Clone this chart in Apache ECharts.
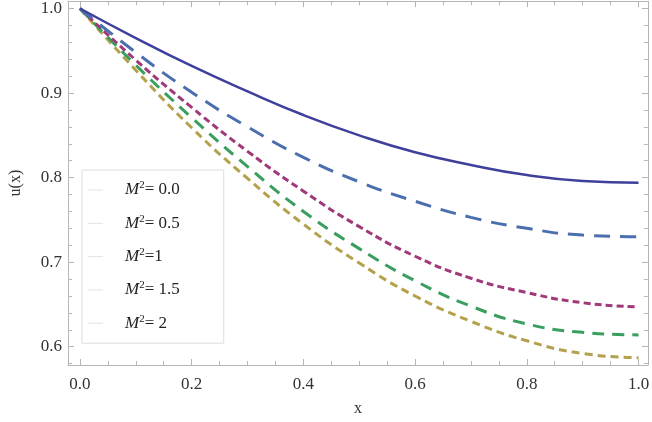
<!DOCTYPE html>
<html>
<head>
<meta charset="utf-8">
<script src="https://cdn.jsdelivr.net/npm/echarts@6/dist/echarts.min.js"></script>
<style>
  html, body { margin: 0; padding: 0; background: #fff; }
  #app { width: 652px; height: 422px; }
</style>
</head>
<body>
<div id="app"></div>
<script>
// x positions and u(x)
var xs = [0, 0.1, 0.2, 0.3, 0.4, 0.5, 0.6, 0.7, 0.8, 0.9, 1.0];
var uM00 = [1.000, 0.965, 0.932, 0.902, 0.874, 0.850, 0.830, 0.815, 0.803, 0.796, 0.794];
var uM05 = [1.000, 0.948, 0.901, 0.860, 0.824, 0.795, 0.772, 0.753, 0.740, 0.732, 0.730];
var uM10 = [1.000, 0.939, 0.883, 0.831, 0.784, 0.742, 0.707, 0.681, 0.664, 0.652, 0.647];
var uM15 = [1.000, 0.933, 0.871, 0.813, 0.760, 0.716, 0.678, 0.648, 0.627, 0.617, 0.614];
var uM20 = [1.000, 0.927, 0.859, 0.799, 0.745, 0.699, 0.660, 0.630, 0.607, 0.592, 0.587];

var legendNames = ['M2=0.0', 'M2=0.5', 'M2=1', 'M2=1.5', 'M2=2'];
var legendTails = ['= 0.0', '= 0.5', '=1', '= 1.5', '= 2'];

var xLabels = [0, 0.2, 0.4, 0.6, 0.8, 1.0];
var xTicks = [0, 0.05, 0.1, 0.15, 0.2, 0.25, 0.3, 0.35, 0.4, 0.45, 0.5, 0.55, 0.6, 0.65, 0.7, 0.75, 0.8, 0.85, 0.9, 0.95, 1.0];
var yLabels = [0.6, 0.7, 0.8, 0.9, 1.0];
var yTicks = [0.58, 0.6, 0.62, 0.64, 0.66, 0.68, 0.7, 0.72, 0.74, 0.76, 0.78, 0.8, 0.82, 0.84, 0.86, 0.88, 0.9, 0.92, 0.94, 0.96, 0.98, 1.0];

var seriesVals = [uM00, uM05, uM10, uM15, uM20];
var colors = ['#3f3f9c', '#4b6eaf', '#a0397a', '#3a9f5e', '#b3a14b'];
var dashes = ['solid', [16, 10], [7, 4], [12, 8], [8, 5]];
var widths = [2.5, 3, 3, 3, 3];

var frameColor = '#b5b5b5';
var serif = 'Liberation Serif';
var xMin = -0.0214, xMax = 1.0167;
var yMin = 0.5784, yMax = 1.0086;

var myChart = echarts.init(document.getElementById('app'));

function pairs(v) {
    return xs.map(function (x, i) { return [x, v[i]]; });
}

var series = seriesVals.map(function (v, i) {
    return {
        name: legendNames[i],
        type: 'line',
        smooth: true,
        symbol: 'none',
        data: pairs(v),
        lineStyle: { color: colors[i], width: widths[i], type: dashes[i], cap: 'butt' },
        itemStyle: { color: colors[i] },
        z: 10 - i
    };
});

// bare axes for the frame: top / right sides and the longer major ticks
function frameX(pos, ticks, len, showLine) {
    return {
        type: 'value', position: pos, min: xMin, max: xMax,
        axisLine: { show: showLine, onZero: false, lineStyle: { color: frameColor, width: 1 } },
        axisTick: { show: true, inside: true, length: len, customValues: ticks, lineStyle: { color: frameColor } },
        axisLabel: { show: false },
        splitLine: { show: false }
    };
}
function frameY(pos, ticks, len, showLine) {
    return {
        type: 'value', position: pos, min: yMin, max: yMax,
        axisLine: { show: showLine, onZero: false, lineStyle: { color: frameColor, width: 1 } },
        axisTick: { show: true, inside: true, length: len, customValues: ticks, lineStyle: { color: frameColor } },
        axisLabel: { show: false },
        splitLine: { show: false }
    };
}

var xMain = {
    type: 'value', position: 'bottom', min: xMin, max: xMax,
    name: 'x', nameLocation: 'middle', nameGap: 36,
    nameTextStyle: { fontFamily: serif, fontSize: 16, color: '#333' },
    axisLine: { show: true, onZero: false, lineStyle: { color: frameColor, width: 1 } },
    axisTick: { show: true, inside: true, length: 4, customValues: xTicks, lineStyle: { color: frameColor } },
    axisLabel: {
        customValues: xLabels, margin: 11,
        fontFamily: serif, fontSize: 17, color: '#333',
        formatter: function (v) { return v.toFixed(1); }
    },
    splitLine: { show: false }
};
var yMain = {
    type: 'value', position: 'left', min: yMin, max: yMax,
    name: 'u(x)', nameLocation: 'middle', nameGap: 44,
    nameTextStyle: { fontFamily: serif, fontSize: 16, color: '#333' },
    axisLine: { show: true, onZero: false, lineStyle: { color: frameColor, width: 1 } },
    axisTick: { show: true, inside: true, length: 4, customValues: yTicks, lineStyle: { color: frameColor } },
    axisLabel: {
        customValues: yLabels, margin: 6,
        fontFamily: serif, fontSize: 17, color: '#333',
        formatter: function (v) { return v.toFixed(1); }
    },
    splitLine: { show: false }
};

var option = {
    backgroundColor: '#fff',
    animation: false,
    grid: { left: 58.5, right: 2.5, top: 1, bottom: 56 },
    legend: {
        orient: 'vertical',
        left: 82, top: 170,
        padding: [10, 44, 10, 6],
        icon: 'rect',
        itemWidth: 15, itemHeight: 1, itemGap: 13.3,
        borderColor: '#dddddd', borderWidth: 1,
        backgroundColor: '#fff',
        itemStyle: { color: '#e2e2e2' },
        data: legendNames,
        formatter: function (name) {
            return '{m|M}{s|2}{t|' + legendTails[legendNames.indexOf(name)] + '}';
        },
        textStyle: {
            rich: {
                m: { fontFamily: serif, fontStyle: 'italic', fontSize: 17, color: '#222', lineHeight: 20, padding: [0, 0, 0, 17] },
                s: { fontFamily: serif, fontSize: 11, color: '#222', lineHeight: 20, padding: [0, 0, 9, 0] },
                t: { fontFamily: serif, fontSize: 17, color: '#222', lineHeight: 20 }
            }
        }
    },
    xAxis: [
        xMain,
        frameX('bottom', xLabels, 6, false),
        frameX('top', xTicks, 4, true),
        frameX('top', xLabels, 6, false)
    ],
    yAxis: [
        yMain,
        frameY('left', yLabels, 6, false),
        frameY('right', yTicks, 4, true),
        frameY('right', yLabels, 6, false)
    ],
    series: series
};

myChart.setOption(option);
</script>
</body>
</html>
